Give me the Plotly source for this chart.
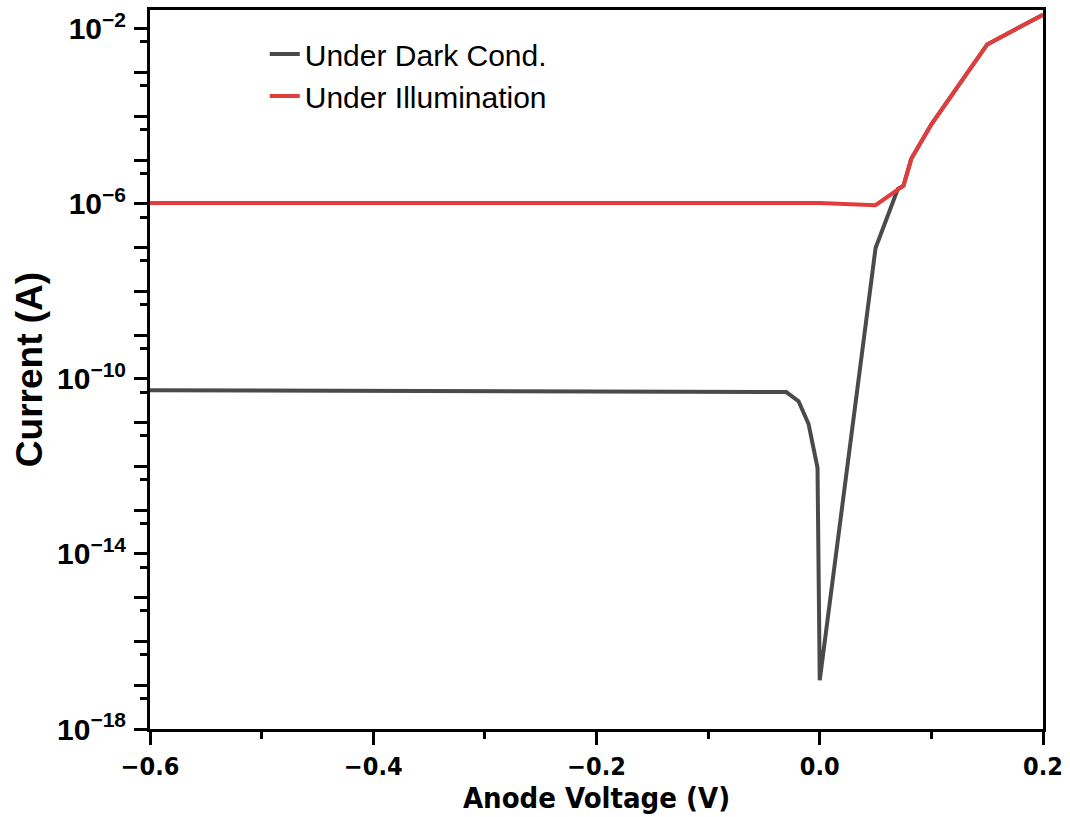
import plotly.graph_objects as go

# Data
dark_v = [-0.6, -0.4, -0.2, -0.03, -0.019, -0.010, -0.002, 0.0, 0.05, 0.07, 0.075, 0.082, 0.1, 0.15, 0.2]
dark_i = [5.5e-11, 5.3e-11, 5.2e-11, 5.0e-11, 3.1e-11, 9.3e-12, 9.3e-13, 1.3e-17,
          9.8e-8, 2.2e-6, 2.6e-6, 1.07e-5, 6.6e-5, 4.4e-3, 2.1e-2]

light_v = [-0.6, -0.2, 0.0, 0.05, 0.075, 0.082, 0.1, 0.15, 0.2]
light_i = [1.05e-6, 1.05e-6, 1.05e-6, 9.3e-7, 2.6e-6, 1.07e-5, 6.6e-5, 4.4e-3, 2.1e-2]

y_major_exp = list(range(-18, -1))
y_label_exp = [-18, -14, -10, -6, -2]
y_minor_exp = list(range(-18, -1))

y_tickvals = [10.0 ** e for e in y_major_exp]
y_ticktext = [("<b>10<sup>\u2212%d</sup></b>" % (-e)) if e in y_label_exp else "" for e in y_major_exp]
y_minorvals = [5 * 10.0 ** e for e in y_minor_exp]

fig = go.Figure()
fig.add_trace(go.Scatter(x=dark_v, y=dark_i, mode="lines", name="Under Dark Cond.",
                         line=dict(color="#4a4a4a", width=4)))
fig.add_trace(go.Scatter(x=light_v, y=light_i, mode="lines", name="Under Illumination",
                         line=dict(color="#e23c3c", width=4)))

narrow = "Liberation Sans Narrow, Arial Narrow, DejaVu Sans Condensed, sans-serif"
fig.update_layout(
    width=1070, height=817,
    margin=dict(l=150, r=25, t=7, b=88),
    paper_bgcolor="white", plot_bgcolor="white",
    font=dict(family="Liberation Sans, Arial, sans-serif", color="black"),
    legend=dict(x=0.1285, y=0.975, xanchor="left", yanchor="top",
                bgcolor="rgba(0,0,0,0)", font=dict(size=30, family="Liberation Sans, Arial"),
                tracegroupgap=0),
    xaxis=dict(
        range=[-0.6, 0.2], tickmode="linear", tick0=-0.6, dtick=0.2,
        tickformat=".1f",
        showline=True, linewidth=3, linecolor="black", mirror=True,
        ticks="outside", ticklen=13, tickwidth=2.5, tickcolor="black",
        showgrid=False, zeroline=False,
        tickfont=dict(size=25, family=narrow, weight="bold"),
        minor=dict(dtick=0.1, tick0=-0.6, ticks="outside", ticklen=7, tickwidth=2.5, tickcolor="black", showgrid=False),
        title=dict(text="<b>Anode Voltage (V)</b>", font=dict(size=29, family=narrow), standoff=8),
    ),
    yaxis=dict(
        type="log", range=[-18, -1.57],
        tickmode="array", tickvals=y_tickvals, ticktext=y_ticktext,
        showline=True, linewidth=3, linecolor="black", mirror=True,
        ticks="outside", ticklen=13, tickwidth=2.5, tickcolor="black",
        showgrid=False, zeroline=False,
        tickfont=dict(size=30, family="Liberation Sans, Arial"),
        ticklabelstandoff=2,
        minor=dict(tickmode="array", tickvals=y_minorvals, ticks="outside", ticklen=7, tickwidth=2.5,
                   tickcolor="black", showgrid=False),
        title=dict(text="<b>Current (A)</b>", font=dict(size=37, family="Liberation Sans, Arial"), standoff=4),
    ),
)

fig.write_html("out.html")
